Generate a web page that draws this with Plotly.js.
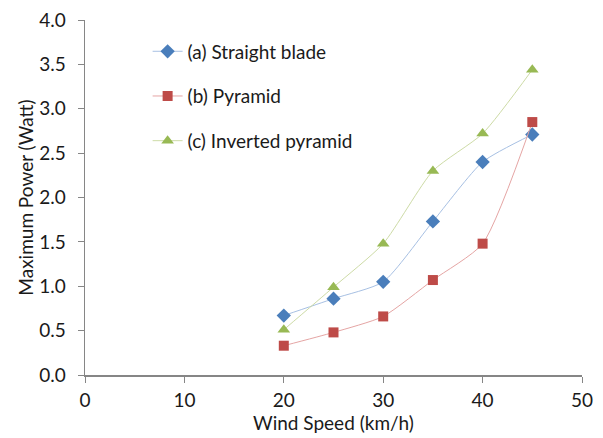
<!DOCTYPE html>
<html><head><meta charset="utf-8">
<script src="https://cdn.plot.ly/plotly-3.0.1.min.js"></script>
<style>body{margin:0;background:#fff}#c{width:603px;height:438px}</style>
</head><body><div id="c"></div>
<script>
const windSpeed = [20, 25, 30, 35, 40, 45];
const straightBlade = [0.67, 0.86, 1.05, 1.73, 2.40, 2.71];
const pyramid = [0.33, 0.48, 0.66, 1.07, 1.48, 2.85];
const invertedPyramid = [0.51, 0.99, 1.48, 2.30, 2.72, 3.44];
const seriesNames = ["(a) Straight blade", "(b) Pyramid", "(c) Inverted pyramid"];

function tr(y, name, lineColor, markColor, symbol, size, g) {
  return {x: windSpeed, y: y, name: name, type: 'scatter', mode: 'lines+markers',
    legendgroup: g,
    line: {color: lineColor, width: 1, shape: 'spline', smoothing: 0.6},
    marker: {color: markColor, symbol: symbol, size: size}};
}
const data = [
  tr(straightBlade, seriesNames[0], '#a7c0e3', '#4a7ebb', 'diamond', 11, 'a'),
  tr(pyramid, seriesNames[1], '#e5a5a4', '#be4b48', 'square', 10, 'b'),
  tr(invertedPyramid, seriesNames[2], '#cddba6', '#98b954', 'triangle-up', 11, 'c')
];
const axisFont = {family: 'Lato, "Open Sans", sans-serif', size: 19, color: '#1a1a1a'};
const layout = {
  width: 603, height: 438,
  margin: {l: 85, r: 21, t: 20, b: 63},
  paper_bgcolor: '#fff', plot_bgcolor: '#fff',
  font: axisFont,
  showlegend: true,
  legend: {x: 0.126, y: 0.965, xanchor: 'left', yanchor: 'top', bgcolor: 'rgba(0,0,0,0)',
    traceorder: 'grouped', tracegroupgap: 17, font: axisFont},
  xaxis: {range: [0, 50], dtick: 10, tick0: 0, showgrid: false, zeroline: false,
    showline: true, linecolor: '#868686', linewidth: 1.5, ticks: 'outside', ticklen: 6,
    tickcolor: '#868686', tickfont: axisFont, ticklabelstandoff: 2,
    title: {text: 'Wind Speed (km/h)', font: axisFont, standoff: 2}},
  yaxis: {range: [0, 4], dtick: 0.5, tick0: 0, tickformat: '.1f', showgrid: false, zeroline: false,
    showline: true, linecolor: '#868686', linewidth: 1.5, ticks: 'outside', ticklen: 6,
    tickcolor: '#868686', tickfont: axisFont, ticklabelstandoff: 8,
    title: {text: 'Maximum Power (Watt)', font: axisFont, standoff: 0}}
};
Plotly.newPlot('c', data, layout, {displayModeBar: false, staticPlot: true});
</script></body></html>
